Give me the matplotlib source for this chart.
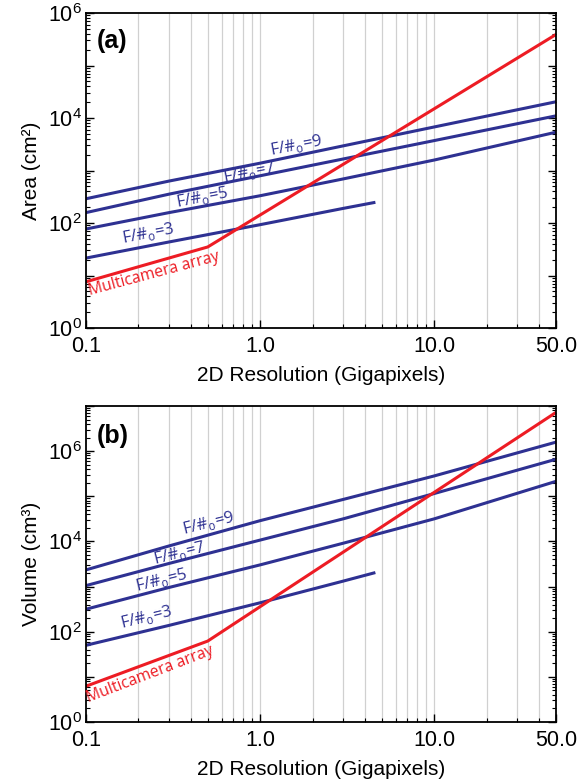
import numpy as np
import matplotlib.pyplot as plt
from matplotlib.ticker import FixedLocator, FuncFormatter, LogLocator, NullFormatter

# resolution in gigapixels
res = [0.1, 0.3, 1.0, 3.0, 10.0, 50.0]
res_f3 = [0.1, 0.3, 1.0, 3.0, 4.5]
res_cam = [0.1, 0.5, 50.0]

# panel (a): area, cm^2
area_f9 = [290, 630, 1380, 2950, 6760, 20400]
area_f7 = [158, 355, 795, 1660, 3720, 11000]
area_f5 = [77, 158, 331, 692, 1585, 5370]
area_f3 = [21.5, 43.6, 93, 190, 245]
area_cam = [7.6, 35, 3.9e5]

# panel (b): volume, cm^3
vol_f9 = [2340, 7940, 28800, 85100, 2.82e5, 1.58e6]
vol_f7 = [1050, 3250, 10700, 31600, 1.15e5, 6.6e5]
vol_f5 = [315, 955, 3020, 9120, 31600, 2.14e5]
vol_f3 = [50, 138, 437, 1320, 2000]
vol_cam = [6.2, 62, 7.2e6]

xticks = [0.1, 1.0, 10.0, 50.0]
xticklabels = ['0.1', '1.0', '10.0', '50.0']

blue = '#2e3192'
red = '#ed1c24'
lab_font = 'Open Sans'

plt.rcParams['font.family'] = ['Liberation Sans', 'DejaVu Sans']
plt.rcParams['mathtext.fontset'] = 'custom'
plt.rcParams['mathtext.rm'] = 'Liberation Sans'

fig = plt.figure(figsize=(5.86, 7.84), dpi=100)
ax1 = fig.add_axes([0.1468, 0.5816, 0.802, 0.4018])
ax2 = fig.add_axes([0.1468, 0.0791, 0.802, 0.4031])


def yfmt(v, pos):
    e = int(round(np.log10(v)))
    if e % 2 == 0:
        return r'$10^{%d}$' % e
    return ''


def setup(ax, ylim, ylabel, tag, tag_y):
    ax.set_xscale('log')
    ax.set_yscale('log')
    ax.set_xlim(0.1, 50)
    ax.set_ylim(*ylim)
    ax.xaxis.set_major_locator(FixedLocator(xticks))
    ax.set_xticklabels(xticklabels)
    minors = [m * d for d in (0.1, 1, 10) for m in range(2, 10) if m * d < 50]
    ax.xaxis.set_minor_locator(FixedLocator(minors))
    ax.xaxis.set_minor_formatter(NullFormatter())
    for g in minors + [1.0, 10.0]:
        ax.axvline(g, color='#d0d0d0', lw=0.9, zorder=0)
    ax.yaxis.set_major_locator(LogLocator(base=10, numticks=20))
    ax.yaxis.set_major_formatter(FuncFormatter(yfmt))
    ax.yaxis.set_minor_locator(LogLocator(base=10, subs=np.arange(2, 10), numticks=20))
    ax.yaxis.set_minor_formatter(NullFormatter())
    ax.tick_params(axis='both', which='both', direction='in', labelsize=15.5, colors='black')
    ax.tick_params(axis='y', which='both', left=True, right=True)
    ax.tick_params(axis='y', pad=3)
    ax.tick_params(axis='x', which='both', top=False)
    ax.tick_params(which='major', length=6, width=1)
    ax.tick_params(which='minor', length=3, width=0.8)
    ax.tick_params(axis='x', pad=6)
    for s in ax.spines.values():
        s.set_linewidth(1.3)
    ax.set_xlabel('2D Resolution (Gigapixels)', fontsize=15, labelpad=6)
    ax.set_ylabel(ylabel, fontsize=15, labelpad=5)
    ax.text(0.022, tag_y, tag, transform=ax.transAxes, fontsize=18,
            fontweight='bold', va='center', ha='left')


setup(ax1, (1, 1e6), 'Area (cm²)', '(a)', 0.91)
setup(ax2, (1, 1e7), 'Volume (cm³)', '(b)', 0.905)

lw = 2.2
ax1.plot(res, area_f9, color=blue, lw=lw)
ax1.plot(res, area_f7, color=blue, lw=lw)
ax1.plot(res, area_f5, color=blue, lw=lw)
ax1.plot(res_f3, area_f3, color=blue, lw=lw)
ax1.plot(res_cam, area_cam, color=red, lw=lw)

ax2.plot(res, vol_f9, color=blue, lw=lw)
ax2.plot(res, vol_f7, color=blue, lw=lw)
ax2.plot(res, vol_f5, color=blue, lw=lw)
ax2.plot(res_f3, vol_f3, color=blue, lw=lw)
ax2.plot(res_cam, vol_cam, color=red, lw=lw)


def flabel(n):
    return r'F/#$_\mathregular{o}$=%d' % n


def place(px, py, s, rot, color, size=12):
    # px, py: baseline centre in picture pixels from the top-left corner
    x, y = fig.transFigure.inverted().transform((px, 784 - py))
    fig.text(x, y, s, rotation=rot, color=color, fontsize=size, family=lab_font,
             ha='center', va='baseline', rotation_mode='anchor')


place(297, 150, flabel(9), 11, blue)
place(250, 177, flabel(7), 11, blue)
place(203, 202, flabel(5), 11, blue)
place(149, 238.5, flabel(3), 11, blue)
place(155, 278, 'Multicamera array', 15, red, 11.3)

place(210, 527.5, flabel(9), 14, blue)
place(181, 558, flabel(7), 14, blue)
place(163, 584.5, flabel(5), 14, blue)
place(148, 622, flabel(3), 14, blue)
place(152, 678, 'Multicamera array', 21, red, 11.3)

fig.savefig('out.png', dpi=100)
